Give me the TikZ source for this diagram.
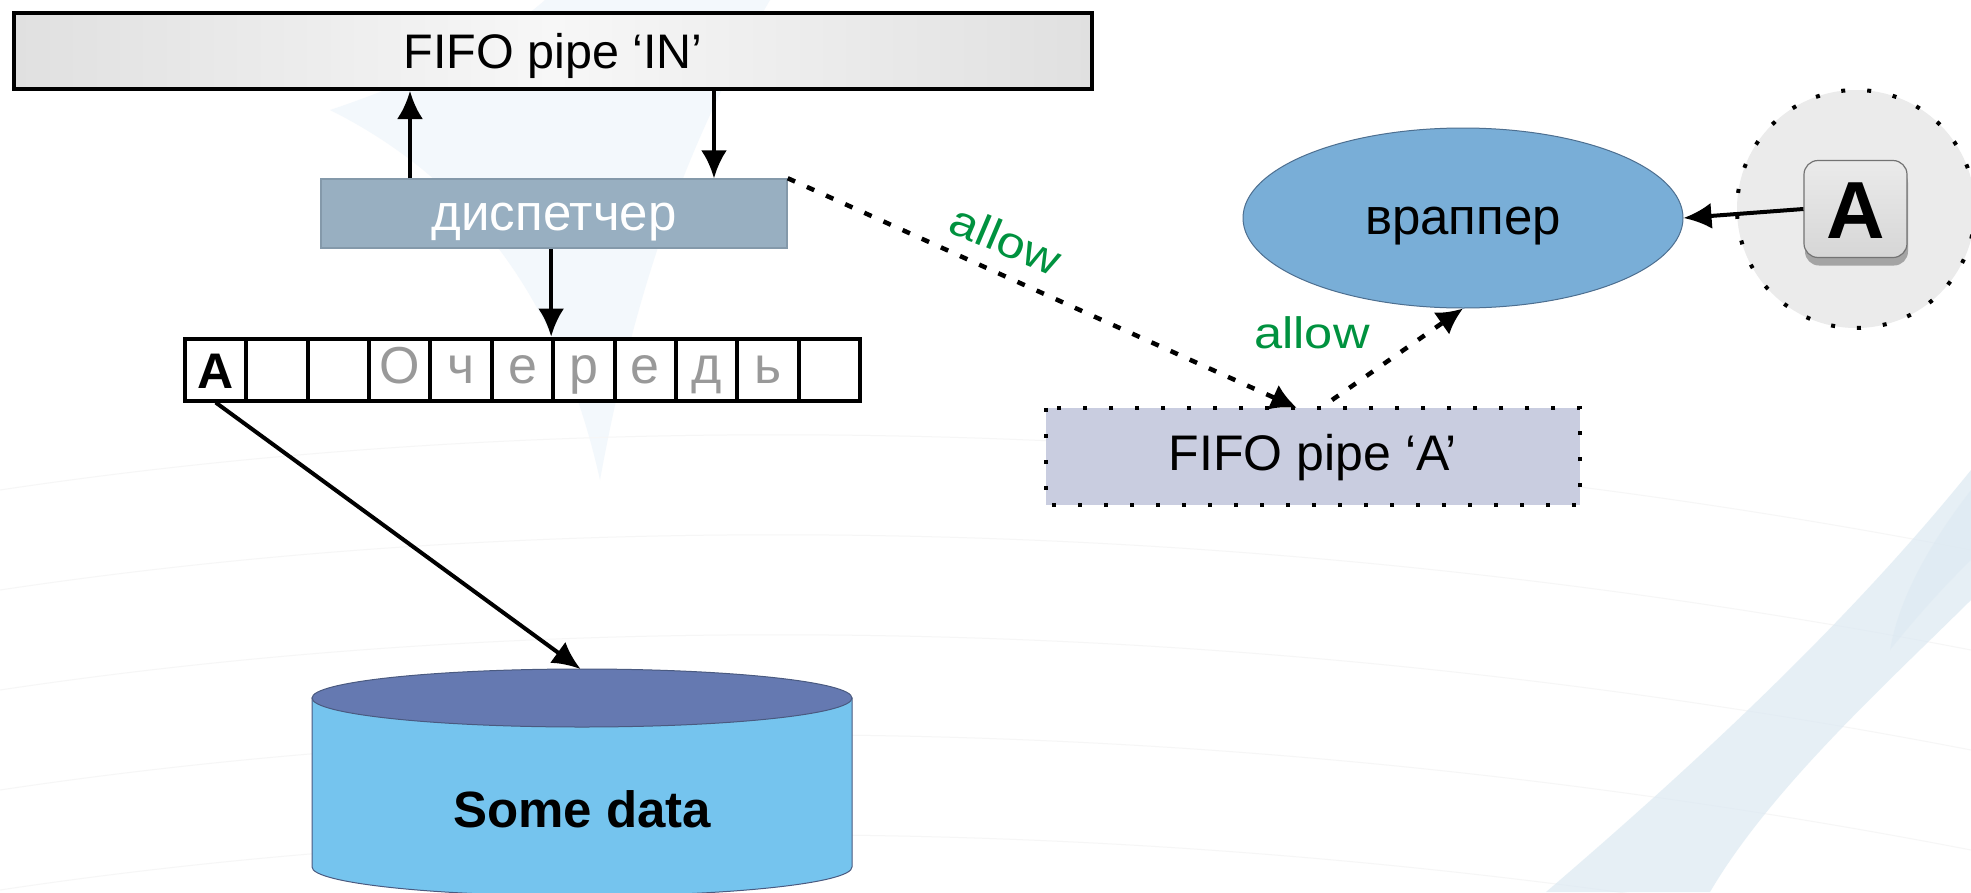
\documentclass[tikz,border=0pt]{standalone}
\usepackage{fontspec}
\setmainfont{Liberation Sans}
\usepackage{graphicx}
\usetikzlibrary{arrows.meta,shapes.geometric,shadows}
\definecolor{inedge}{HTML}{E0E0E0}
\definecolor{inmid}{HTML}{F7F7F7}
\definecolor{dispfill}{HTML}{98AFC1}
\definecolor{dispdraw}{HTML}{8499AA}
\definecolor{qgray}{HTML}{999999}
\definecolor{cyltop}{HTML}{6579B1}
\definecolor{cylbody}{HTML}{75C4EE}
\definecolor{cyldraw}{HTML}{4A5A80}
\definecolor{wrfill}{HTML}{79AED7}
\definecolor{wrdraw}{HTML}{4D6F90}
\definecolor{fafill}{HTML}{C9CDE0}
\definecolor{circfill}{HTML}{EBEBEB}
\definecolor{allowgreen}{HTML}{00923F}
\definecolor{bgblue}{HTML}{F3F8FC}
\definecolor{swoosh}{HTML}{DCE9F2}
\definecolor{bgline}{HTML}{F6F6F6}
\begin{document}
\begin{tikzpicture}[x=1pt,y=-1pt,
  arr/.style={line width=4pt,draw=black,-{Latex[length=28pt,width=26pt]}},
  dotarr/.style={line width=4.5pt,dash pattern=on 8pt off 13pt,-{Latex[length=26pt,width=27pt]}},
  dotborder/.style={draw=black,line width=4pt,dash pattern=on 4pt off 22pt},
  qcell/.style={draw,line width=4pt,fill=white,minimum width=61.36pt,minimum height=62pt,inner sep=0pt,text height=28pt,text depth=0pt,text=qgray,font=\fontsize{52}{60}\selectfont},
  lbl/.style={text=allowgreen,font=\fontsize{44}{50}\selectfont,inner sep=0pt}
]
\useasboundingbox (0,0) rectangle (1971,892);
\fill[white] (0,0) rectangle (1971,892);
% background decoration
\fill[bgblue] (545,0) -- (770,0) .. controls (700,120) and (640,260) .. (600,480) .. controls (560,300) and (470,180) .. (330,110) .. controls (420,80) and (500,40) .. cycle;
\foreach \yy in {460,560,660,760,860} {
  \draw[bgline,line width=1pt] (0,\yy+30) .. controls (600,\yy-60) and (1300,\yy-40) .. (1971,\yy+90);
}
\fill[swoosh,opacity=0.7] (1546,892) .. controls (1700,760) and (1850,620) .. (1971,470) -- (1971,600) .. controls (1880,690) and (1770,790) .. (1710,892) -- cycle;
\fill[swoosh,opacity=0.5] (1890,650) .. controls (1900,590) and (1940,530) .. (1971,490) -- (1971,560) .. controls (1940,590) and (1910,625) .. cycle;

% FIFO IN
\node[draw,line width=4pt,left color=inedge,right color=inedge,middle color=inmid,
  minimum width=1078pt,minimum height=76pt,inner sep=0pt,text height=34pt,text depth=0pt,
  font=\fontsize{48.5}{56}\selectfont] (in) at (553,51) {FIFO pipe ‘IN’};
% dispatcher
\node[fill=dispfill,draw=dispdraw,line width=1.5pt,minimum width=466pt,minimum height=69pt,
  inner sep=0pt,text=white,text height=33pt,text depth=0pt,font=\fontsize{51}{60}\selectfont] (disp) at (554,213.5) {диспетчер};
\coordinate (upx) at (410,0);
\coordinate (dnx) at (714,0);
\draw[arr] (disp.north -| upx) -- (upx |- in.south);
\draw[arr] (dnx |- in.south) -- (disp.north -| dnx);

% queue
\foreach \i/\t in {2/,3/,4/О,5/ч,6/е,7/р,8/е,9/д,10/ь,11/} {
  \node[qcell] (q\i) at ({185+61.36*(\i-0.5)},369.5) {\t};
}
\node[qcell,text=black,text height=38pt,font=\fontsize{50}{60}\selectfont\bfseries] (q1) at ({185+61.36*0.5},369.5) {A};
\draw[arr] (disp.south -| q7.north west) -- (q7.north west);

% cylinder
\fill[cylbody,draw=cyldraw,line width=1pt] (312,698) -- (312,867) arc[start angle=180,end angle=0,x radius=270,y radius=29] -- (852,698) -- cycle;
\fill[cyltop,draw=cyldraw,line width=1pt] (582,698) ellipse[x radius=270,y radius=29];
\coordinate (dbtop) at (580.5,669);
\node[anchor=base,inner sep=0pt,font=\fontsize{51}{60}\selectfont\bfseries] (dblabel) at (582,827) {Some data};
\draw[arr] (q1.south) -- (dbtop);

% FIFO A
\node[fill=fafill,minimum width=534pt,minimum height=97pt,inner sep=0pt,text height=27pt,text depth=0pt,
  font=\fontsize{50}{60}\selectfont] (fa) at (1313,456.5) {FIFO pipe ‘A’};
\draw[dotborder] (fa.north west) rectangle (fa.south east);

% wrapper
\node[ellipse,fill=wrfill,draw=wrdraw,line width=1pt,minimum width=440pt,minimum height=180pt,inner sep=0pt,
  text height=32pt,text depth=0pt,font=\fontsize{51}{60}\selectfont] (wr) at (1463,218) {враппер};

% key circle
\node[circle,fill=circfill,minimum size=238pt,inner sep=0pt] (kc) at (1856,209) {};
\draw[dotborder] (kc.center) circle[radius=119];
\node[fill=black!10,top color=black!8,bottom color=black!16,draw=black!55,line width=1.2pt,rounded corners=14pt,
  minimum width=103pt,minimum height=97pt,inner sep=0pt,text height=58pt,text depth=0pt,
  font=\fontsize{81}{90}\selectfont\bfseries,
  drop shadow={shadow xshift=1pt,shadow yshift=-8pt,opacity=0.3,fill=black}] (key) at (1855.5,209) {A};
\draw[arr] (key.west) -- (wr.east);

% dotted connectors
\coordinate (faIn) at (1297,408);
\coordinate (faOut) at (1332,400);
\draw[dotarr] (disp.north east) -- (faIn);
\draw[dotarr] (faOut) -- (wr.south);
\node[lbl,rotate=-23,anchor=base] (lab1) at (1000,254) {\scalebox{1.15}[1]{allow}};
\node[lbl,anchor=base] (lab2) at (1312,348) {\scalebox{1.15}[1]{allow}};
\end{tikzpicture}
\end{document}
